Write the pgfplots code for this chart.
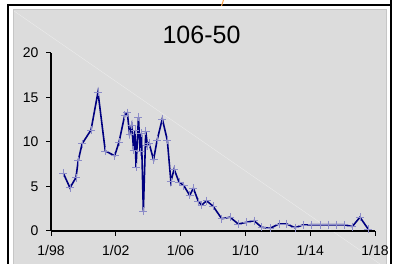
\documentclass[border=0pt]{standalone}
\usepackage{pgfplots}
\pgfplotsset{compat=1.18}
\usepackage{fontspec}
\setmainfont{Liberation Sans}
\definecolor{panel}{HTML}{DCDCDC}
\definecolor{paneledge}{HTML}{C6C6C6}
\definecolor{navy}{HTML}{000080}
\definecolor{markc}{HTML}{8C8CC8}
\begin{document}
\begin{tikzpicture}[x=1pt,y=1pt]
\useasboundingbox (0,0) rectangle (393,264);
\fill[white] (0,0) rectangle (393,264);
\fill[panel] (13,0) rectangle (387,254.5);
\draw[paneledge,line width=1pt] (13,0) -- (13,254.5) -- (386.5,254.5) -- (386.5,0);
\draw[white,line width=0.4pt,opacity=0.45] (14,253) -- (380,0);
\draw[black,line width=1.5pt] (8,0) -- (8,259) -- (391,259);
\draw[black,line width=1.5pt] (391,264) -- (391,0);
\draw[orange!70,line width=1pt] (223.5,264) -- (221.5,258);
\node[font=\fontsize{25}{28}\selectfont] at (201.5,229) {106-50};
\begin{axis}[
  at={(51pt,33pt)}, anchor=origin,
  scale only axis, width=324pt, height=178pt,
  xmin=1998, xmax=2018, ymin=0, ymax=20,
  axis x line=bottom, axis y line=left,
  axis line style={-, line width=1.2pt, black},
  tick align=outside, major tick length=5pt,
  tick style={black, line width=1pt},
  xtick={1998,2002,2006,2010,2014,2018},
  xticklabels={1/98,1/02,1/06,1/10,1/14,1/18},
  ytick={0,5,10,15,20},
  tick label style={font=\fontsize{14}{16}\selectfont},
  /pgf/number format/assume math mode=true,
  xticklabel style={yshift=-6pt},
  yticklabel style={xshift=-4pt},
  clip=false,
]
\addplot[navy, line width=1.6pt, mark=+, mark size=4pt,
  mark options={markc, line width=0.7pt}] coordinates {
(1998.76,6.5) (1999.17,4.85) (1999.54,6.0) (1999.68,7.9) (1999.92,9.8)
(2000.47,11.35) (2000.9,15.6) (2001.35,9.0) (2001.93,8.45) (2002.2,10.0)
(2002.55,13.0) (2002.71,13.3) (2002.85,10.9) (2002.98,11.9) (2003.1,9.1)
(2003.18,11.3) (2003.25,7.2) (2003.4,12.8) (2003.5,8.9) (2003.58,11.0)
(2003.7,2.2) (2003.85,11.2) (2003.95,9.6) (2004.05,9.9) (2004.33,8.0)
(2004.55,10.2) (2004.87,12.6) (2005.18,10.2) (2005.4,5.55) (2005.6,6.95)
(2005.9,5.5) (2006.2,5.1) (2006.56,4.0) (2006.79,4.8) (2007.1,3.3)
(2007.3,2.9) (2007.6,3.4) (2008.0,2.8) (2008.54,1.38) (2009.05,1.55)
(2009.56,0.79) (2010.08,0.98) (2010.53,1.16) (2011.0,0.42) (2011.52,0.30)
(2012.07,0.79) (2012.55,0.79) (2013.06,0.37) (2013.56,0.68) (2014.1,0.7)
(2014.6,0.7) (2015.1,0.7) (2015.6,0.7) (2016.1,0.7) (2016.6,0.5)
(2017.07,1.55) (2017.59,0.19)
};
\end{axis}
\end{tikzpicture}
\end{document}
